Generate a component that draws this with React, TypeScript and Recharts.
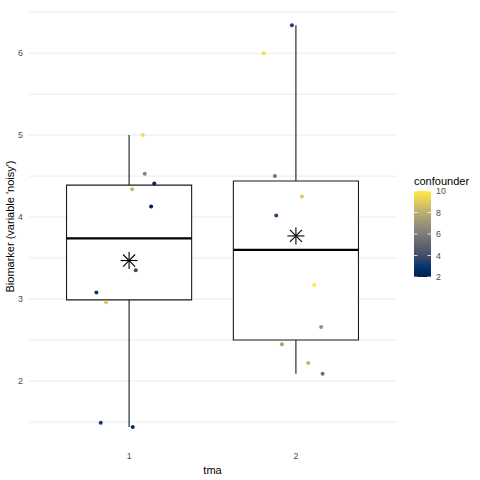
import {
  CartesianGrid,
  ComposedChart,
  ReferenceArea,
  ReferenceLine,
  Scatter,
  XAxis,
  YAxis,
} from 'recharts'

// groups on the tma axis
const GROUPS = [1, 2]

// box statistics per group
const WHISKER_LOW = [1.44, 2.09]
const Q1 = [2.99, 2.5]
const MEDIAN = [3.74, 3.6]
const Q3 = [4.39, 4.44]
const WHISKER_HIGH = [5.0, 6.34]
const MEANS = [3.47, 3.77]

// jittered observations
const TMA_1_OFFSET = [0.082, 0.094, 0.151, 0.018, 0.132, 0.04, -0.196, -0.138, -0.17, 0.022]
const TMA_1_VALUE = [5.0, 4.53, 4.41, 4.34, 4.13, 3.35, 3.08, 2.96, 1.49, 1.44]
const TMA_1_CONF = [9.6, 6.3, 2.2, 8.4, 2.1, 3.9, 3.2, 8.9, 3.2, 2.8]

const TMA_2_OFFSET = [-0.024, -0.193, -0.126, 0.036, -0.118, 0.11, 0.151, -0.084, 0.074, 0.16]
const TMA_2_VALUE = [6.34, 6.0, 4.5, 4.25, 4.02, 3.17, 2.66, 2.45, 2.22, 2.09]
const TMA_2_CONF = [3.3, 9.6, 5.8, 9.0, 3.6, 10.0, 6.8, 7.5, 8.2, 5.5]

const Y_TICKS = [1.5, 2, 2.5, 3, 3.5, 4, 4.5, 5, 5.5, 6, 6.5]
const LEGEND_TICKS = [10, 8, 6, 4, 2]

const CIVIDIS = [
  '#00204D', '#00336F', '#39486B', '#575C6D', '#707173',
  '#8A8779', '#A69D75', '#C4B56C', '#E4CF5B', '#FFEA46',
]
const CONF_MIN = 2
const CONF_MAX = 10
const FONT = '"Liberation Sans", Arial, Helvetica, sans-serif'

function hex(c: string) {
  return [1, 3, 5].map((i) => parseInt(c.slice(i, i + 2), 16))
}

function cividis(v: number) {
  const t = Math.min(1, Math.max(0, (v - CONF_MIN) / (CONF_MAX - CONF_MIN)))
  const pos = t * (CIVIDIS.length - 1)
  const i = Math.min(CIVIDIS.length - 2, Math.floor(pos))
  const f = pos - i
  const a = hex(CIVIDIS[i])
  const b = hex(CIVIDIS[i + 1])
  const m = a.map((x, k) => Math.round(x + (b[k] - x) * f))
  return `rgb(${m[0]},${m[1]},${m[2]})`
}

const points = [
  ...TMA_1_VALUE.map((y, i) => ({ x: 1 + TMA_1_OFFSET[i], y, conf: TMA_1_CONF[i] })),
  ...TMA_2_VALUE.map((y, i) => ({ x: 2 + TMA_2_OFFSET[i], y, conf: TMA_2_CONF[i] })),
]
const means = GROUPS.map((g, i) => ({ x: g, y: MEANS[i] }))

const BOX_HALF = 0.375
const LINE = '#1a1a1a'

function Dot(props: any) {
  const { cx, cy, payload } = props
  return <circle cx={cx} cy={cy} r={2} fill={cividis(payload.conf)} />
}

function Asterisk(props: any) {
  const { cx, cy } = props
  const r = 8.5
  const d = r * Math.SQRT1_2
  return (
    <g stroke="#000" strokeWidth={1.1}>
      <line x1={cx - r} y1={cy} x2={cx + r} y2={cy} />
      <line x1={cx} y1={cy - r} x2={cx} y2={cy + r} />
      <line x1={cx - d} y1={cy - d} x2={cx + d} y2={cy + d} />
      <line x1={cx - d} y1={cy + d} x2={cx + d} y2={cy - d} />
    </g>
  )
}

function ColorBar() {
  const top = 191
  const bottom = 277
  const pos = (v: number) => bottom - ((v - CONF_MIN) / (CONF_MAX - CONF_MIN)) * (bottom - top)
  const stops = CIVIDIS.map((c, i) => (
    <stop key={c} offset={`${(i / (CIVIDIS.length - 1)) * 100}%`} stopColor={c} />
  ))
  return (
    <svg width={80} height={130} style={{ position: 'absolute', left: 410, top: 165 }}>
      <defs>
        <linearGradient id="cbar" x1="0" y1="1" x2="0" y2="0">
          {stops}
        </linearGradient>
      </defs>
      <g transform="translate(-410,-165)" fontFamily={FONT}>
        <text x={414} y={185} fontSize={11} fill="#000">
          confounder
        </text>
        <rect x={414} y={top} width={17} height={bottom - top} fill="url(#cbar)" />
        {LEGEND_TICKS.map((t) => (
          <g key={t}>
            <line x1={414} x2={417.5} y1={pos(t)} y2={pos(t)} stroke="#fff" strokeWidth={0.8} />
            <line x1={427.5} x2={431} y1={pos(t)} y2={pos(t)} stroke="#fff" strokeWidth={0.8} />
            <text x={436} y={pos(t) + 3} fontSize={8.8} fill="#4D4D4D">
              {t}
            </text>
          </g>
        ))}
      </g>
    </svg>
  )
}

export default function App() {
  return (
    <div style={{ position: 'absolute', left: 0, top: 0, width: 480, height: 480, background: '#fff' }}>
      <ComposedChart
        width={480}
        height={480}
        margin={{ top: 6, right: 84, bottom: 0, left: 0 }}
        style={{ fontFamily: FONT }}
      >
        <CartesianGrid vertical={false} stroke="#EBEBEB" horizontalValues={Y_TICKS} />
        <XAxis
          type="number"
          dataKey="x"
          domain={[0.4, 2.6]}
          ticks={GROUPS}
          allowDataOverflow
          height={33}
          axisLine={false}
          tickLine={false}
          tickSize={4}
          tickMargin={2}
          tick={{ fontSize: 8.8, fill: '#4D4D4D' }}
          label={{ value: 'tma', position: 'insideBottom', offset: 6, fontSize: 11, fill: '#000' }}
        />
        <YAxis
          type="number"
          dataKey="y"
          domain={[1.195, 6.575]}
          ticks={Y_TICKS}
          interval={0}
          allowDataOverflow
          width={29}
          axisLine={false}
          tickLine={false}
          tickSize={3}
          tickMargin={3}
          tick={{ fontSize: 8.8, fill: '#4D4D4D' }}
          tickFormatter={(v: number) => (Number.isInteger(v) ? String(v) : '')}
          label={{
            value: "Biomarker (variable 'noisy')",
            angle: -90,
            position: 'insideLeft',
            offset: 10,
            fontSize: 11,
            fill: '#000',
            style: { textAnchor: 'middle' },
          }}
        />
        {GROUPS.map((g, i) => (
          <ReferenceLine
            key={`wl${g}`}
            segment={[{ x: g, y: WHISKER_LOW[i] }, { x: g, y: Q1[i] }]}
            stroke={LINE}
            strokeWidth={1.1}
          />
        ))}
        {GROUPS.map((g, i) => (
          <ReferenceLine
            key={`wh${g}`}
            segment={[{ x: g, y: Q3[i] }, { x: g, y: WHISKER_HIGH[i] }]}
            stroke={LINE}
            strokeWidth={1.1}
          />
        ))}
        {GROUPS.map((g, i) => (
          <ReferenceArea
            key={`box${g}`}
            x1={g - BOX_HALF}
            x2={g + BOX_HALF}
            y1={Q1[i]}
            y2={Q3[i]}
            fill="#fff"
            fillOpacity={1}
            stroke={LINE}
            strokeWidth={1.1}
          />
        ))}
        {GROUPS.map((g, i) => (
          <ReferenceLine
            key={`med${g}`}
            segment={[{ x: g - BOX_HALF, y: MEDIAN[i] }, { x: g + BOX_HALF, y: MEDIAN[i] }]}
            stroke="#000"
            strokeWidth={2.2}
          />
        ))}
        <Scatter data={points} isAnimationActive={false} shape={Dot} />
        <Scatter data={means} isAnimationActive={false} shape={Asterisk} />
      </ComposedChart>
      <ColorBar />
    </div>
  )
}
